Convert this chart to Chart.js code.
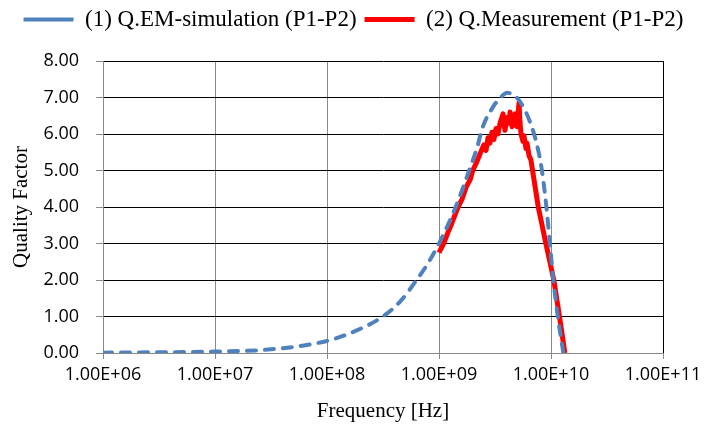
<!DOCTYPE html>
<html>
<head>
<meta charset="utf-8">
<script src="https://cdn.jsdelivr.net/npm/chart.js@4/dist/chart.umd.min.js"></script>
<style>
  html, body { margin: 0; padding: 0; background: #fff; }
  #wrap { width: 707px; height: 428px; }
</style>
</head>
<body>
<div id="wrap"><canvas id="chart-q"></canvas></div>
<script>
// (1) EM simulation
const simFreq = [1e6, 3.16e6, 1e7, 3.16e7, 1e8, 1.78e8, 3.16e8, 4.47e8, 6.31e8, 7.94e8,
    1e9, 1.41e9, 1.86e9, 2.19e9, 2.45e9, 3.02e9, 3.55e9, 4.07e9, 4.57e9, 5.25e9,
    6.46e9, 7.5e9, 8.3e9, 9.1e9, 9.77e9, 1.05e10, 1.15e10, 1.29e10];
const simQ = [0.01, 0.02, 0.04, 0.1, 0.33, 0.6, 1.0, 1.4, 2.0, 2.45,
    3.0, 4.0, 5.0, 5.63, 6.18, 6.73, 7.0, 7.13, 7.08, 6.9,
    6.35, 5.7, 5.0, 4.0, 3.0, 2.0, 1.0, 0.0];

// (2) measurement
const measFreq = [1.0e9, 1.1e9, 1.2e9, 1.3e9, 1.48e9, 1.6e9, 1.75e9, 1.9e9, 2.0e9, 2.15e9,
    2.32e9, 2.51e9, 2.63e9, 2.74e9, 2.85e9, 2.97e9, 3.09e9, 3.23e9, 3.36e9, 3.51e9,
    3.73e9, 3.88e9, 4.05e9, 4.22e9, 4.31e9, 4.49e9, 4.68e9, 4.78e9, 4.97e9, 5.18e9,
    5.29e9, 5.40e9, 5.62e9, 5.74e9, 5.98e9, 6.11e9, 6.37e9, 6.61e9, 7.7e9, 9.0e9,
    1.06e10, 1.19e10, 1.33e10];
const measQ = [2.75, 3.0, 3.3, 3.55, 4.0, 4.2, 4.55, 4.75, 5.0, 5.2,
    5.45, 5.7, 5.55, 5.9, 5.75, 6.05, 5.85, 6.15, 6.0, 6.3,
    6.55, 6.1, 6.45, 6.3, 6.6, 6.2, 6.45, 6.55, 6.2, 6.85,
    6.3, 6.0, 5.8, 5.95, 5.6, 5.75, 5.4, 5.3, 4.0, 3.0,
    2.0, 1.0, 0.0];

const xTickValues = [1e6, 1e7, 1e8, 1e9, 1e10, 1e11];
const xTickLabels = ['1.00E+06', '1.00E+07', '1.00E+08', '1.00E+09', '1.00E+10', '1.00E+11'];

const toPoints = (xs, ys) => xs.map((x, i) => ({ x: x, y: ys[i] }));

const legendHeight = {
    id: 'legendHeight',
    beforeInit(chart) {
        const fit = chart.legend.fit;
        chart.legend.fit = function () {
            fit.call(this);
            this.height = 61;
        };
    },
};

const GRAY = '#898989';

new Chart(document.getElementById('chart-q'), {
    type: 'line',
    data: {
        datasets: [{
            label: '(1) Q.EM-simulation (P1-P2)',
            data: toPoints(simFreq, simQ),
            borderColor: '#4F81BD',
            backgroundColor: '#4F81BD',
            borderWidth: 4,
            borderDash: [9, 9],
            borderCapStyle: 'round',
            cubicInterpolationMode: 'monotone',
            pointRadius: 0,
        }, {
            label: '(2) Q.Measurement (P1-P2)',
            data: toPoints(measFreq, measQ),
            borderColor: '#FF0000',
            backgroundColor: '#FF0000',
            borderWidth: 5,
            borderJoinStyle: 'round',
            tension: 0,
            pointRadius: 0,
        }],
    },
    options: {
        responsive: true,
        maintainAspectRatio: false,
        animation: false,
        layout: { padding: 0 },
        plugins: {
            legend: {
                position: 'top',
                labels: {
                    usePointStyle: true,
                    pointStyle: 'line',
                    pointStyleWidth: 50,
                    padding: 8,
                    color: '#000',
                    font: { family: 'Liberation Serif', size: 23 },
                },
            },
            tooltip: { enabled: false },
        },
        scales: {
            x: {
                type: 'logarithmic',
                min: 1e6,
                max: 1e11,
                afterBuildTicks: (s) => { s.ticks = xTickValues.map(v => ({ value: v })); },
                afterFit: (s) => { s.height = 75; },
                ticks: {
                    color: '#000',
                    padding: 5,
                    maxRotation: 0,
                    autoSkip: false,
                    font: { family: 'Open Sans', size: 18 },
                    callback: (v) => xTickLabels[xTickValues.indexOf(v)],
                },
                grid: {
                    color: (c) => (c.tick && c.tick.value === 1e11 ? '#000' : GRAY),
                    tickColor: GRAY,
                    tickLength: 6,
                    lineWidth: 1,
                },
                border: { color: GRAY, width: 1 },
                title: {
                    display: true,
                    text: 'Frequency [Hz]',
                    color: '#000',
                    padding: { top: 0, bottom: 4 },
                    font: { family: 'Liberation Serif', size: 21 },
                },
            },
            y: {
                min: 0,
                max: 8,
                afterFit: (s) => { s.width = 103; },
                ticks: {
                    stepSize: 1,
                    color: '#000',
                    padding: 17,
                    font: { family: 'Open Sans', size: 18 },
                    callback: (v) => v.toFixed(2),
                },
                grid: {
                    color: (c) => (c.tick && c.tick.value === 0 ? GRAY : '#000'),
                    tickColor: GRAY,
                    tickLength: 7,
                    lineWidth: 1,
                },
                border: { color: GRAY, width: 1 },
                title: {
                    display: true,
                    text: 'Quality Factor',
                    color: '#000',
                    padding: { top: 9, bottom: 0 },
                    font: { family: 'Liberation Serif', size: 21 },
                },
            },
            // empty right-hand axis, only reserves the margin right of the plot
            yRight: {
                position: 'right',
                min: 0,
                max: 8,
                afterFit: (s) => { s.width = 44; },
                ticks: { display: false },
                grid: { display: false, drawOnChartArea: false },
                border: { display: false },
            },
        },
    },
    plugins: [legendHeight],
});
</script>
</body>
</html>
